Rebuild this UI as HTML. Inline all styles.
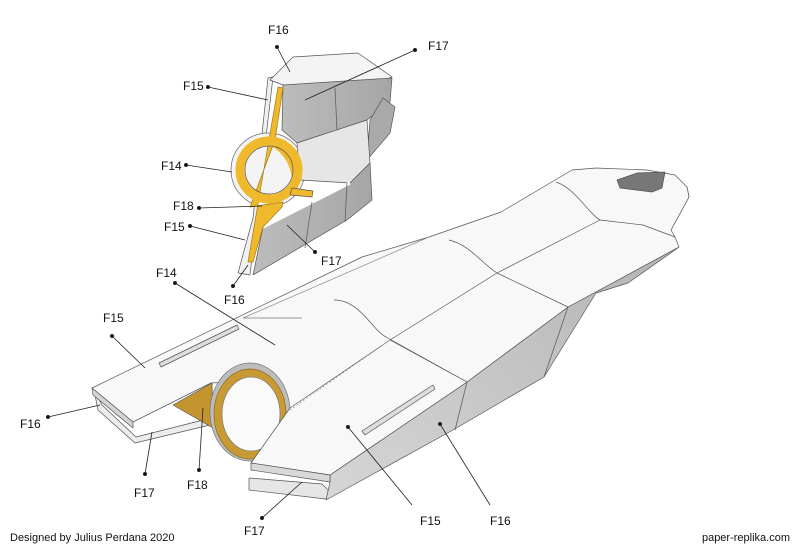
<!DOCTYPE html>
<html><head><meta charset="utf-8"><style>
body{margin:0;background:#fff}
svg{display:block}
text{font-family:"Liberation Sans",Arial,sans-serif;font-size:12px;fill:#111}
</style></head><body>
<svg width="800" height="549" viewBox="0 0 800 549" xmlns="http://www.w3.org/2000/svg">
<defs>
<linearGradient id="side" x1="0" y1="1" x2="1" y2="0"><stop offset="0" stop-color="#d6d6d6"/><stop offset="1" stop-color="#b4b4b4"/></linearGradient>
<linearGradient id="gr" x1="0" y1="0" x2="1" y2="0"><stop offset="0" stop-color="#bcbcbc"/><stop offset="1" stop-color="#a6a6a6"/></linearGradient>
</defs>
<g stroke="#555" stroke-width="0.7" stroke-linejoin="round">
<polygon points="94,390 98,410 135,443 210,425 274,402 272,396 211,418 136,437 102,405" fill="#ececec"/>
<polygon points="249,478 249,490 326,499 330,492 322,484" fill="#e6e6e6"/>
<polygon points="330,475 330,482 326,500 453,430 544,377 596,293 628,283 675,250 679,247 568,307 467,382" fill="url(#side)"/>
<line x1="467" y1="382" x2="455" y2="430"/>
<line x1="568" y1="307" x2="544" y2="377"/>
<polygon points="671,230 689,197 687,187 660,220" fill="#dedede"/>
<polygon points="92,388 362,257 429,237 501,212 572,170 596,168 647,170 675,175 687,187 689,197 671,230 675,237 679,247 568,307 467,382 330,475 251,463 290,408 274,380 211,383 133,422" fill="#f8f8f8"/>
<polygon points="92,388 133,422 133,428 93,395" fill="#d4d4d4"/>
<polygon points="617,180 637,173 665,172 662,188 652,192 620,188" fill="#777"/>
<line x1="243" y1="318" x2="429" y2="237" stroke="#888"/>
<line x1="243" y1="318" x2="302" y2="318" stroke="#777"/>
<path d="M334,300 C360,300 372,330 386,337 L467,382" fill="none"/>
<path d="M449,240 C470,245 480,262 497,273 L568,307" fill="none"/>
<path d="M556,182 C575,188 590,215 600,220 L643,225 L675,237" fill="none"/>
<polyline points="390,340 497,273 600,220" fill="none"/>
<polygon points="159,363 237,325 239,329 161,367" fill="#ddd"/>
<polygon points="173,405 212,383 213,428" fill="#c4952f"/>
<ellipse cx="250" cy="412" rx="40" ry="49" fill="#bdbdbd" stroke="#777"/>
<ellipse cx="250" cy="414" rx="36" ry="45" fill="#c89a35" stroke="#8a6a20"/>
<ellipse cx="251" cy="414" rx="29" ry="37" fill="#fafafa" stroke="#777"/>
<polygon points="290,408 251,463 330,475 467,382 390,340" fill="#f8f8f8"/>
<polygon points="251,463 330,475 330,482 251,470" fill="#d8d8d8"/>
<line x1="290" y1="410" x2="390" y2="340" stroke-dasharray="2,2" stroke="#999"/>
<polygon points="362,431 433,385 435,389 365,435" fill="#ddd"/>
<!-- upper part -->
<polygon points="268,78 273,77 250,275 238,273 253,218" fill="#f0f0f0"/>
<circle cx="268" cy="170" r="37" fill="#f4f4f4" stroke="#666"/>
<polygon points="270,80 293,57 358,53 392,77 367,87 335,88 283,85" fill="#f4f4f4"/>
<polygon points="283,85 392,78 390,102 367,120 337,130 297,143 282,130" fill="url(#gr)"/>
<line x1="335" y1="88" x2="337" y2="130"/>
<polygon points="383,98 395,107 390,133 367,160 370,120" fill="#aaa"/>
<polygon points="297,143 367,120 370,163 350,183 300,180" fill="#e6e6e6"/>
<polygon points="263,227 350,183 370,163 372,200 347,220 253,275" fill="url(#gr)"/>
<line x1="263" y1="227" x2="350" y2="183" stroke="#fff" stroke-width="3"/>
<line x1="312" y1="202" x2="305" y2="248"/>
<line x1="347" y1="183" x2="345" y2="222"/>
<polygon points="278,87 283,88 275,140 250,207 283,202 282,207 263,227 253,262 248,262" fill="#f0b92b" stroke="#a07a18"/>
<circle cx="269" cy="170" r="29" fill="none" stroke="#f0b92b" stroke-width="9"/>
<path d="M266,140 C290,150 300,175 292,192" fill="none" stroke="#f0b92b" stroke-width="6"/>
<polygon points="292,188 313,191 312,197 290,195" fill="#f0b92b"/>
<circle cx="269" cy="170" r="24" fill="none" stroke="#555"/>
</g>
<g stroke="#222" stroke-width="0.8" fill="#111">
<line x1="277" y1="47" x2="290" y2="72"/><circle cx="277" cy="47" r="1.6"/>
<line x1="415" y1="50" x2="305" y2="100"/><circle cx="415" cy="50" r="1.6"/>
<line x1="208" y1="87" x2="268" y2="100"/><circle cx="208" cy="87" r="1.6"/>
<line x1="186" y1="165" x2="232" y2="172"/><circle cx="186" cy="165" r="1.6"/>
<line x1="199" y1="208" x2="262" y2="206"/><circle cx="199" cy="208" r="1.6"/>
<line x1="190" y1="226" x2="245" y2="240"/><circle cx="190" cy="226" r="1.6"/>
<line x1="315" y1="252" x2="287" y2="225"/><circle cx="315" cy="252" r="1.6"/>
<line x1="233" y1="286" x2="248" y2="265"/><circle cx="233" cy="286" r="1.6"/>
<line x1="175" y1="283" x2="275" y2="345"/><circle cx="175" cy="283" r="1.6"/>
<line x1="112" y1="336" x2="145" y2="368"/><circle cx="112" cy="336" r="1.6"/>
<line x1="48" y1="417" x2="100" y2="405"/><circle cx="48" cy="417" r="1.6"/>
<line x1="145" y1="474" x2="152" y2="432"/><circle cx="145" cy="474" r="1.6"/>
<line x1="199" y1="470" x2="203" y2="408"/><circle cx="199" cy="470" r="1.6"/>
<line x1="348" y1="427" x2="412" y2="505"/><circle cx="348" cy="427" r="1.6"/>
<line x1="440" y1="424" x2="490" y2="505"/><circle cx="440" cy="424" r="1.6"/>
<line x1="262" y1="518" x2="302" y2="482"/><circle cx="262" cy="518" r="1.6"/>
</g>
<text x="268" y="34">F16</text>
<text x="428" y="50">F17</text>
<text x="183" y="90">F15</text>
<text x="161" y="170">F14</text>
<text x="173" y="210">F18</text>
<text x="164" y="231">F15</text>
<text x="321" y="265">F17</text>
<text x="224" y="304">F16</text>
<text x="156" y="277">F14</text>
<text x="103" y="322">F15</text>
<text x="20" y="428">F16</text>
<text x="134" y="497">F17</text>
<text x="187" y="489">F18</text>
<text x="420" y="525">F15</text>
<text x="490" y="525">F16</text>
<text x="244" y="535">F17</text>
<text x="10" y="541" style="font-size:11px">Designed by Julius Perdana 2020</text>
<text x="790" y="541" text-anchor="end" style="font-size:11px">paper-replika.com</text>
</svg>
</body></html>
